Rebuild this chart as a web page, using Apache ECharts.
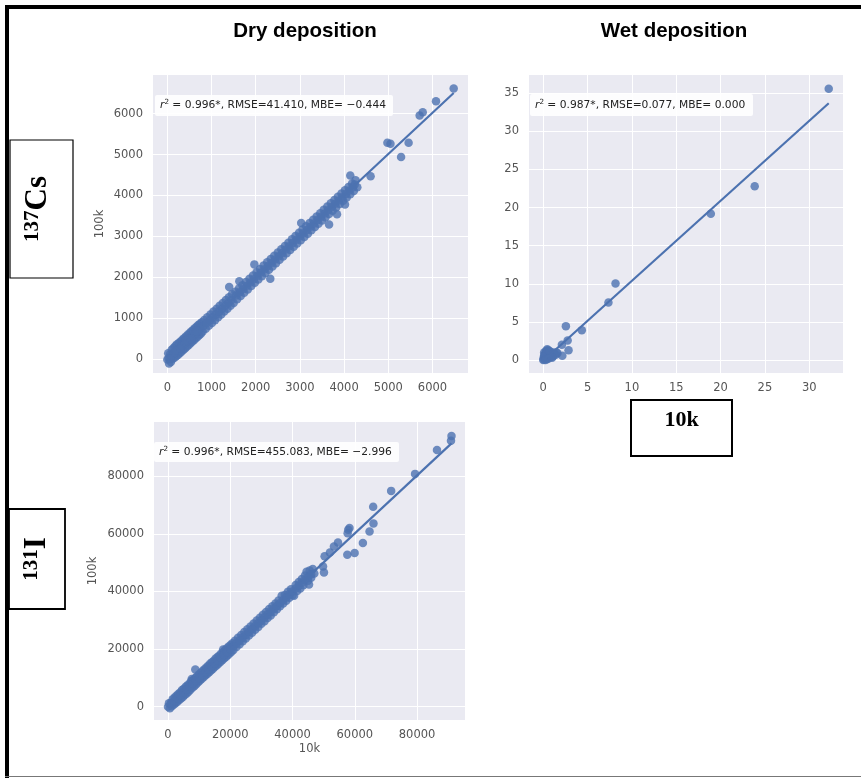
<!DOCTYPE html>
<html>
<head>
<meta charset="utf-8">
<script src="https://cdn.jsdelivr.net/npm/echarts@6/dist/echarts.min.js"></script>
<style>html,body{margin:0;padding:0;background:#fff;}#c{width:861px;height:778px;}</style>
</head>
<body>
<div id="c"></div>
<script>
// ---------- DATA ----------
const csDryTicks = [0, 1000, 2000, 3000, 4000, 5000, 6000];
const csWetXTicks = [0, 5, 10, 15, 20, 25, 30];
const csWetYTicks = [0, 5, 10, 15, 20, 25, 30, 35];
const iDryTicks = [0, 20000, 40000, 60000, 80000];

const csDryPoints = [
[0,0],[20,150],[40,-100],[60,120],[80,-60],[100,240],[120,10],[140,280],[160,40],[180,330],[200,80],[220,370],[240,110],[260,400],[280,150],[300,440],[320,190],[340,480],[360,230],[380,520],[400,270],[420,560],[440,310],[460,600],[480,350],[500,640],[520,390],[540,680],[560,430],[580,720],[600,470],[620,760],[640,510],[660,800],[680,550],[700,840],[720,590],[740,870],[760,630],[780,910],
[30,30],[90,90],[150,150],[210,210],[270,270],[330,330],[390,390],[450,450],[510,510],[570,570],[630,630],[690,690],[750,750],[60,10],[180,210],[300,260],[420,470],[540,500],[660,700],
[800,680],[835,960],[870,750],[905,1030],[940,820],[975,1100],[1010,890],[1045,1170],[1080,960],[1115,1240],[1150,1030],[1185,1310],[1220,1100],[1255,1380],[1290,1170],[1325,1450],[1360,1240],[1395,1520],[1400,1770],[1430,1310],[1465,1590],[1500,1380],
[820,820],[890,890],[960,960],[1030,1030],[1100,1100],[1170,1170],[1240,1240],[1310,1310],[1380,1380],[1450,1450],
[1540,1650],[1580,1470],[1620,1730],[1630,1910],[1660,1550],[1700,1810],[1740,1630],[1780,1890],[1820,1710],[1860,1970],[1900,1790],[1940,2050],[1970,2320],[1980,1870],[2020,2130],[2060,1950],[2100,2210],[2140,2030],[2180,2290],[2220,2110],[2260,2370],[2300,2190],[2330,1970],[2340,2450],[2380,2270],[2420,2530],[2460,2350],[2500,2610],
[1560,1560],[1640,1640],[1720,1720],[1800,1800],[1880,1880],[1960,1960],[2040,2040],[2120,2120],[2200,2200],[2280,2280],[2360,2360],[2440,2440],
[2540,2430],[2580,2690],[2620,2510],[2660,2770],[2700,2590],[2740,2850],[2780,2670],[2820,2930],[2860,2750],[2900,3010],[2940,2830],[2980,3090],[3020,2910],[3030,3330],[3060,3170],[3100,2990],[3140,3250],[3180,3070],[3220,3330],[3260,3150],[3300,3410],[3340,3230],[3380,3490],[3420,3310],[3460,3570],[3500,3390],
[2520,2520],[2600,2600],[2680,2680],[2760,2760],[2840,2840],[2920,2920],[3000,3000],[3080,3080],[3160,3160],[3240,3240],[3320,3320],[3400,3400],[3480,3480],
[3540,3650],[3580,3470],[3620,3730],[3660,3290],[3660,3550],[3700,3810],[3740,3630],[3780,3890],[3820,3710],[3840,3540],[3860,3970],[3900,3790],[3940,4050],[3980,3870],[4020,3780],[4020,4130],[4060,3950],[4100,4210],[4140,4490],[4140,4030],[4180,4290],[4220,4110],[4240,4270],[4260,4370],[4300,4200],
[3560,3560],[3640,3640],[3720,3720],[3800,3800],[3880,3880],[3960,3960],[4040,4040],[4120,4120],[4200,4200],
[4600,4470],[4980,5290],[5050,5260],[5290,4940],[5460,5290],[5710,5950],[5780,6030],[6080,6300],[6480,6610]
];
const csDryLine = [[0,-20],[6480,6500]];

const csWetPoints = [
[0,0],[0.05,0.3],[0.1,0.6],[0.1,1.0],[0.2,0.2],[0.2,0.8],[0.3,0.4],[0.3,1.2],[0.4,0.1],[0.4,0.7],[0.5,1.3],[0.5,0.3],[0.6,0.9],[0.7,0.5],[0.8,1.1],[0.9,0.4],[1.0,0.8],[1.1,0.5],[1.2,1.0],[1.4,0.7],[1.5,1.0],[1.6,0.9],[0.05,0.1],[0.15,0.45],[0.25,0],[0.35,0.9],[0.45,1.4],[0.6,0.2],[0.7,1.2],[1.0,0.3],
[2.1,2.0],[2.15,0.55],[2.55,4.45],[2.75,2.55],[2.85,1.3],[4.35,3.9],[7.35,7.55],[8.15,10.05],[18.9,19.2],[23.85,22.8],[32.2,35.6]
];
const csWetLine = [[0,-0.1],[32.2,33.7]];

const iDryPoints = [
[0,0],[300,1200],[600,-500],[900,1400],[1200,200],[1500,2600],[1800,700],[2100,3200],[2400,1200],[2700,3800],[3000,1700],[3300,4400],[3600,2300],[3900,4900],[4200,2900],[4500,5800],[4800,3400],[5100,6200],[5400,4100],[5700,6900],[6000,4600],[6300,7500],[6600,5200],[6900,8100],[7200,5900],[7500,8900],[7600,9600],[7800,6600],[8100,9300],[8400,7100],[8770,12900],[8700,10000],[9000,7700],[9300,10500],[9600,8400],[9900,11200],[10200,9000],[10500,11800],[10800,9600],[11100,12400],[11400,10200],[11700,13000],[12000,10800],[12300,13600],[12600,11400],[12900,14200],[13200,12000],[13500,14900],[13800,12600],[14100,15400],[14400,13100],[14700,16000],[15000,13800],[15300,16700],[15600,14300],[15900,17300],[16200,14900],[16500,17800],[16800,15500],[17100,18500],[17400,16100],[17700,19900],[17800,19000],[18000,16700],[18300,19700],[18600,17300],[18900,20300],[19200,17900],[19500,20900],[19800,18500],[20100,21400],[20400,19100],[20700,22000],[21000,19700],[21500,22900],[22000,20700],[22500,23900],[23000,21700],[23500,24900],[24000,22700],[24500,25900],[25000,23700],[25500,26900],[26000,24700],[26500,27800],[27000,25700],[27500,28900],[28000,26700],[28500,29900],[29000,27700],[29500,30900],[30000,28800],[30500,31900],[31000,29700],[31500,32900],[32000,30800],[32500,33900],[33000,31700],[33500,34900],[34000,32800],[34500,35800],[35000,33800],[35500,36900],[36000,34900],[36500,38500],[37000,35800],[37500,38800],[38000,36800],[38500,39900],[39000,37800],[39500,40800],[40000,38700],[40500,38500],[41000,42200],[41500,40200],[42000,43300],[42500,41000],[43000,44300],[43500,42200],[44000,45500],[44500,46800],[45000,43700],[45300,42400],[45500,47300],[46000,44800],[46500,47800],[47000,46200],
[1000,1000],[2000,2000],[3000,3000],[4000,4000],[5000,5000],[6000,6000],[7000,7000],[8000,8000],[9000,9000],[10000,10000],[11000,11000],[12000,12000],[13000,13000],[14000,14000],[15000,15000],[16000,16000],[17000,17000],[18000,18000],[19000,19000],[20000,20000],[21000,21000],[22000,22000],[23000,23000],[24000,24000],[25000,25000],[26000,26000],[27000,27000],[28000,28000],[29000,29000],[30000,30000],[31000,31000],[32000,32000],[33000,33000],[34000,34000],[35000,35000],[36000,36000],[37000,37000],[38000,38000],[39000,39000],[40000,40000],[41000,41000],[42000,42000],[43000,43000],[44000,44000],[45000,45000],[46000,46000],
[49800,48700],[50100,46600],[50300,52200],[52000,53500],[53300,55600],[54600,57000],[57600,52750],[59940,53330],[57900,61400],[57700,60200],[58300,62000],[62600,56800],[64740,60820],[66000,63590],[65900,69370],[71680,74900],[79360,80800],[86400,89100],[90900,92330],[91070,93960]
];
const iDryLine = [[0,-200],[91070,91400]];

const statCsDry = '0.996*, RMSE=41.410, MBE= \u22120.444';
const statCsWet = '0.987*, RMSE=0.077, MBE= 0.000';
const statIDry = '0.996*, RMSE=455.083, MBE= \u22122.996';

// ---------- STYLE ----------
const BLUE = '#4C72B0';
const LABEL = { color: '#555', fontSize: 11.5, fontFamily: 'DejaVu Sans' };

function makeAxis(gi, min, max, ticks, isY, name, nameGap) {
  return {
    gridIndex: gi, type: 'value', min: min, max: max, scale: false,
    axisLine: { show: false },
    axisTick: { show: false, customValues: ticks },
    axisLabel: Object.assign({ customValues: ticks, margin: isY ? 10 : 9, formatter: v => String(v) }, LABEL),
    splitLine: { show: true, lineStyle: { color: '#ffffff', width: 1 } },
    name: name || '', nameLocation: 'middle', nameGap: nameGap || 0,
    nameTextStyle: { color: '#555', fontSize: 11.5, fontFamily: 'DejaVu Sans' }
  };
}

const grids = [
  { left: 153, top: 75, width: 315, height: 298, show: true, backgroundColor: '#EAEAF2', borderWidth: 0 },
  { left: 529, top: 75, width: 314, height: 298, show: true, backgroundColor: '#EAEAF2', borderWidth: 0 },
  { left: 154, top: 422, width: 311, height: 298, show: true, backgroundColor: '#EAEAF2', borderWidth: 0 }
];

const xAxes = [
  makeAxis(0, -324, 6804, csDryTicks, false),
  makeAxis(1, -1.61, 33.81, csWetXTicks, false),
  makeAxis(2, -4500, 95400, iDryTicks, false, '10k', 23)
];
const yAxes = [
  makeAxis(0, -330, 6940, csDryTicks, true, '100k', 47),
  makeAxis(1, -1.7, 37.4, csWetYTicks, true),
  makeAxis(2, -4600, 98800, iDryTicks, true, '100k', 55)
];

function scatter(i, pts) {
  return { type: 'scatter', xAxisIndex: i, yAxisIndex: i, data: pts, symbolSize: 8.5,
    itemStyle: { color: BLUE, opacity: 0.8 }, silent: true, z: 2 };
}
function regLine(i, pts) {
  return { type: 'line', xAxisIndex: i, yAxisIndex: i, data: pts, symbol: 'none',
    lineStyle: { color: BLUE, width: 2.2 }, silent: true, z: 3 };
}

function statBox(x, y, w, h, text) {
  return {
    type: 'group', z: 100,
    children: [
      { type: 'rect', z: 100, shape: { x: x, y: y, width: w, height: h, r: 2 }, style: { fill: 'rgba(255,255,255,0.9)' } },
      { type: 'text', z: 101, x: x + 5, y: y + h / 2, style: {
          text: '{i|r}{s|2}{n| = ' + text + '}',
          verticalAlign: 'middle', align: 'left',
          rich: {
            i: { fontFamily: 'DejaVu Sans', fontStyle: 'italic', fontSize: 10.7, fill: '#222' },
            s: { fontFamily: 'DejaVu Sans', fontSize: 7.2, fill: '#222', verticalAlign: 'top', lineHeight: 13 },
            n: { fontFamily: 'DejaVu Sans', fontSize: 10.7, fill: '#222' }
          }
      } }
    ]
  };
}

function isoBox(x, y, w, h, cx, cy, sup, main, lw) {
  return {
    type: 'group', z: 100,
    children: [
      { type: 'rect', z: 100, shape: { x: x, y: y, width: w, height: h }, style: { fill: '#fff', stroke: '#000', lineWidth: lw } },
      { type: 'text', z: 101, x: cx, y: cy, rotation: Math.PI / 2, style: {
          text: '{a|' + sup + '}{b|' + main + '}', align: 'center', verticalAlign: 'middle',
          rich: {
            a: { fontFamily: 'Liberation Serif', fontWeight: 'bold', fontSize: 21, fill: '#000', verticalAlign: 'top', lineHeight: 32 },
            b: { fontFamily: 'Liberation Serif', fontWeight: 'bold', fontSize: 31, fill: '#000', lineHeight: 32 }
          }
      } }
    ]
  };
}

const chart = echarts.init(document.getElementById('c'), null, { renderer: 'canvas' });
chart.setOption({
  animation: false,
  backgroundColor: '#ffffff',
  grid: grids,
  xAxis: xAxes,
  yAxis: yAxes,
  series: [
    scatter(0, csDryPoints), regLine(0, csDryLine),
    scatter(1, csWetPoints), regLine(1, csWetLine),
    scatter(2, iDryPoints), regLine(2, iDryLine)
  ],
  graphic: [
    { type: 'rect', z: 100, shape: { x: 5, y: 5, width: 856, height: 4 }, style: { fill: '#000' } },
    { type: 'rect', z: 100, shape: { x: 5, y: 5, width: 4, height: 773 }, style: { fill: '#000' } },
    { type: 'rect', z: 100, shape: { x: 5, y: 776, width: 856, height: 1 }, style: { fill: '#777' } },
    { type: 'text', z: 100, x: 305, y: 31, style: { text: 'Dry deposition', align: 'center', verticalAlign: 'middle',
        font: 'bold 20.5px "Liberation Sans", Arial, sans-serif', fill: '#000' } },
    { type: 'text', z: 100, x: 674, y: 31, style: { text: 'Wet deposition', align: 'center', verticalAlign: 'middle',
        font: 'bold 20.5px "Liberation Sans", Arial, sans-serif', fill: '#000' } },
    statBox(155, 95, 238, 21, statCsDry),
    statBox(530, 94, 223, 22, statCsWet),
    statBox(154, 442, 245, 20, statIDry),
    isoBox(10, 140, 63, 138, 38, 209, '137', 'Cs', 1.2),
    isoBox(9, 509, 56, 100, 37, 559, '131', 'I', 1.8),
    { type: 'group', z: 100, children: [
      { type: 'rect', z: 100, shape: { x: 631, y: 400, width: 101, height: 56 }, style: { fill: '#fff', stroke: '#000', lineWidth: 2 } },
      { type: 'text', z: 101, x: 681.5, y: 420.5, style: { text: '10k', align: 'center', verticalAlign: 'middle',
          font: 'bold 22px "Liberation Serif", serif', fill: '#000' } }
    ] }
  ]
});
</script>
</body>
</html>
